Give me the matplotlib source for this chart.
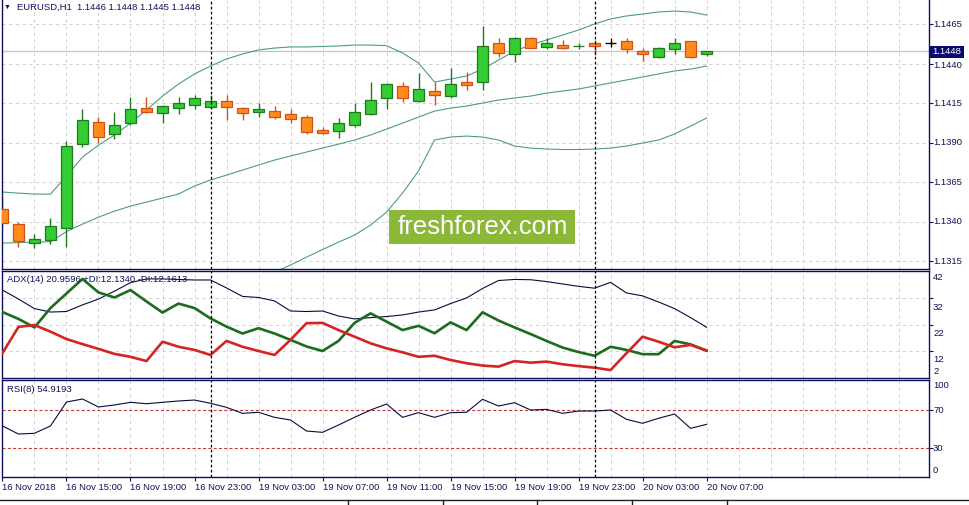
import numpy as np
import matplotlib
matplotlib.use('Agg')
import matplotlib.pyplot as plt
from matplotlib.patches import Rectangle
from matplotlib.lines import Line2D

plt.rcParams['font.family'] = ['Liberation Sans', 'DejaVu Sans']
plt.rcParams['lines.scale_dashes'] = False

# EURUSD H1 bars, 16 Nov 11:00 .. 20 Nov 07:00
opens = [1.13479, 1.13384, 1.13266, 1.13283, 1.13359, 1.13890, 1.14030, 1.13954, 1.14023, 1.14118,
         1.14087, 1.14118, 1.14137, 1.14125, 1.14163, 1.14118, 1.14093, 1.14099, 1.14080, 1.14061,
         1.13979, 1.13973, 1.14011, 1.14080, 1.14182, 1.14258, 1.14163, 1.14226, 1.14194, 1.14283,
         1.14283, 1.14530, 1.14460, 1.14562, 1.14505, 1.14517, 1.14508, 1.14530, 1.14533, 1.14543,
         1.14479, 1.14441, 1.14492, 1.14543, 1.14460]
highs = [1.13549, 1.13395, 1.13321, 1.13422, 1.13909, 1.14112, 1.14061, 1.14093, 1.14188, 1.14188,
         1.14137, 1.14188, 1.14201, 1.14201, 1.14201, 1.14125, 1.14150, 1.14131, 1.14112, 1.14074,
         1.13998, 1.14055, 1.14150, 1.14283, 1.14277, 1.14283, 1.14340, 1.14283, 1.14372, 1.14346,
         1.14637, 1.14562, 1.14568, 1.14568, 1.14562, 1.14549, 1.14530, 1.14549, 1.14562, 1.14562,
         1.14498, 1.14505, 1.14562, 1.14543, 1.14480]
lows = [1.13365, 1.13238, 1.13232, 1.13257, 1.13238, 1.13871, 1.13897, 1.13922, 1.14011, 1.14087,
        1.14023, 1.14080, 1.14112, 1.14118, 1.14042, 1.14042, 1.14061, 1.14049, 1.14023, 1.13954,
        1.13954, 1.13928, 1.13998, 1.14074, 1.14112, 1.14156, 1.14156, 1.14137, 1.14182, 1.14232,
        1.14232, 1.14441, 1.14410, 1.14498, 1.14492, 1.14492, 1.14492, 1.14454, 1.14505, 1.14467,
        1.14416, 1.14435, 1.14460, 1.14435, 1.14450]
closes = [1.13390, 1.13276, 1.13287, 1.13371, 1.13878, 1.14042, 1.13935, 1.14011, 1.14112, 1.14093,
          1.14131, 1.14150, 1.14182, 1.14163, 1.14125, 1.14087, 1.14112, 1.14061, 1.14049, 1.13966,
          1.13960, 1.14023, 1.14093, 1.14169, 1.14270, 1.14182, 1.14239, 1.14201, 1.14270, 1.14264,
          1.14511, 1.14467, 1.14562, 1.14498, 1.14530, 1.14498, 1.14514, 1.14511, 1.14533, 1.14492,
          1.14460, 1.14498, 1.14530, 1.14441, 1.14480]

# Bollinger bands
bb_upper = [1.13587, 1.13580, 1.13574, 1.13574, 1.13688, 1.13808, 1.13884, 1.13948, 1.14023, 1.14106,
            1.14194, 1.14270, 1.14334, 1.14384, 1.14429, 1.14460, 1.14486, 1.14498, 1.14505, 1.14505,
            1.14508, 1.14511, 1.14517, 1.14517, 1.14513, 1.14467, 1.14403, 1.14283, 1.14302, 1.14321,
            1.14365, 1.14422, 1.14479, 1.14517, 1.14549, 1.14580, 1.14612, 1.14650, 1.14682, 1.14701,
            1.14713, 1.14726, 1.14732, 1.14726, 1.14707]
bb_mid = [1.13264, 1.13267, 1.13270, 1.13273, 1.13337, 1.13384, 1.13428, 1.13466, 1.13498, 1.13523,
          1.13549, 1.13574, 1.13625, 1.13663, 1.13694, 1.13726, 1.13758, 1.13789, 1.13815, 1.13840,
          1.13865, 1.13890, 1.13916, 1.13948, 1.13985, 1.14023, 1.14061, 1.14099, 1.14118, 1.14131,
          1.14150, 1.14169, 1.14182, 1.14194, 1.14213, 1.14226, 1.14239, 1.14258, 1.14277, 1.14296,
          1.14315, 1.14334, 1.14353, 1.14365, 1.14384]
bb_lower = [1.12941, 1.12954, 1.12966, 1.12973, 1.12985, 1.12960, 1.12973, 1.12985, 1.12973, 1.12941,
            1.12903, 1.12878, 1.12916, 1.12941, 1.12960, 1.12992, 1.13030, 1.13080, 1.13125, 1.13175,
            1.13223, 1.13270, 1.13314, 1.13378, 1.13460, 1.13580, 1.13720, 1.13916, 1.13935, 1.13941,
            1.13935, 1.13916, 1.13878, 1.13865, 1.13859, 1.13856, 1.13856, 1.13859, 1.13865, 1.13878,
            1.13897, 1.13916, 1.13954, 1.14004, 1.14055]

# ADX(14)
adx = [35.0, 31.6, 28.0, 26.7, 26.9, 29.4, 31.6, 34.6, 37.8, 39.2,
       39.2, 39.0, 38.8, 38.8, 35.8, 32.6, 32.2, 30.9, 27.1, 26.9,
       27.1, 25.2, 24.1, 24.6, 25.0, 25.6, 26.7, 27.5, 29.9, 32.0,
       35.6, 38.6, 39.0, 38.9, 38.2, 37.3, 36.4, 35.7, 37.9, 33.9,
       32.8, 30.5, 28.0, 24.6, 20.96]
plus_di = [26.7, 24.1, 20.9, 28.2, 33.7, 39.2, 34.1, 32.2, 35.0, 30.7,
           26.5, 29.9, 28.2, 24.3, 21.2, 18.6, 20.6, 18.6, 16.2, 13.7,
           12.0, 15.8, 22.6, 26.2, 23.1, 19.9, 21.5, 18.7, 22.8, 19.9,
           26.6, 23.5, 20.9, 18.4, 15.8, 13.3, 11.6, 10.2, 13.6, 12.4,
           10.8, 10.8, 15.8, 14.5, 12.13]
minus_di = [11.2, 21.1, 21.8, 19.3, 16.5, 14.6, 12.8, 10.9, 9.8, 8.2,
            15.5, 13.6, 12.4, 10.5, 15.8, 13.6, 12.0, 10.5, 16.2, 22.5,
            22.6, 19.9, 17.4, 14.9, 13.0, 11.5, 9.8, 10.2, 8.6, 7.4,
            6.5, 6.1, 8.2, 7.6, 8.0, 7.0, 6.3, 5.7, 4.8, 11.2,
            17.4, 15.5, 13.4, 14.3, 12.16]

# RSI(8)
rsi = [53.2, 44.7, 45.5, 53.2, 78.4, 81.6, 73.2, 75.3, 78.1, 76.6,
       78.1, 79.5, 80.5, 77.1, 72.8, 66.5, 67.6, 62.3, 59.5, 47.9,
       46.5, 54.2, 62.3, 70.0, 76.3, 62.3, 67.2, 62.3, 67.2, 67.6,
       81.3, 74.2, 77.7, 70.0, 70.7, 66.5, 68.9, 68.9, 70.0, 60.2,
       56.0, 61.3, 65.8, 50.7, 54.92]

time_labels = ['16 Nov 2018', '16 Nov 15:00', '16 Nov 19:00', '16 Nov 23:00', '19 Nov 03:00',
               '19 Nov 07:00', '19 Nov 11:00', '19 Nov 15:00', '19 Nov 19:00', '19 Nov 23:00',
               '20 Nov 03:00', '20 Nov 07:00']
day_starts = [13, 37]
price_ticks = [1.1315, 1.1340, 1.1365, 1.1390, 1.1415, 1.1440, 1.1465]
adx_ticks = [12, 22, 32]
rsi_levels = [30, 70]

W, H = 969, 505
NAVY = '#10105a'
GRID = '#cbcbcb'
BULL, BULL_EDGE = '#33cc33', '#1f7a1f'
BEAR, BEAR_EDGE = '#ff8c1a', '#d2501a'
BAND = '#4f9c80'
FS = 6.8


def box(left, top, right, bottom):
    return [left / W, 1 - bottom / H, (right - left) / W, (bottom - top) / H]


def fx(x):
    return x / W


def fy(y):
    return 1 - y / H


def right_label(a, v, s, dy=0):
    a.annotate(s, xy=(1, v), xycoords=('axes fraction', 'data'), xytext=(4, dy),
               textcoords='offset pixels', ha='left', va='center', fontsize=FS,
               color=NAVY, annotation_clip=False)


fig = plt.figure(figsize=(W / 100, H / 100), dpi=100)
ax = fig.add_axes(box(2, 0, 929, 269))
ax_adx = fig.add_axes(box(2, 271, 929, 378))
ax_rsi = fig.add_axes(box(2, 380, 929, 476.5))

n = len(closes)
xs = np.arange(n)

for a in (ax, ax_adx, ax_rsi):
    a.set_xlim(-0.03, 57.9)
    for s in a.spines.values():
        s.set_color(NAVY)
        s.set_linewidth(1.0)
    for b in range(0, 58, 2):
        a.axvline(b, color=GRID, lw=0.6, ls=(0, (2.4, 2.4)), zorder=0)
    for b in day_starts:
        a.axvline(b, color='black', lw=0.9, ls=(0, (2.0, 1.6)), zorder=5)
    a.tick_params(axis='y', which='both', left=False, right=True, labelleft=False,
                  labelright=False, direction='out', length=3, color=NAVY)
    a.tick_params(axis='x', bottom=False, labelbottom=False)
ax.spines['top'].set_visible(False)

# main price panel
ax.set_ylim(1.13100, 1.14802)
ax.set_yticks(price_ticks)
for p in price_ticks:
    ax.axhline(p, color=GRID, lw=0.6, ls=(0, (2.4, 2.4)), zorder=0)
    right_label(ax, p, '%.4f' % p, dy=-1.5 if p == 1.1440 else 0)
ax.axhline(closes[-1], color='#c4c4c4', lw=0.9, zorder=1)

ax.plot(xs, bb_upper, color=BAND, lw=0.8, zorder=1.5)
ax.plot(xs, bb_mid, color=BAND, lw=0.8, zorder=1.5)
ax.plot(xs, bb_lower, color=BAND, lw=0.8, zorder=1.5)

for i in range(n):
    o, h, l, c = opens[i], highs[i], lows[i], closes[i]
    if c > o:
        fill, edge = BULL, BULL_EDGE
    elif c < o:
        fill, edge = BEAR, BEAR_EDGE
    else:
        fill, edge = 'black', 'black'
    ax.vlines(i, l, h, color=edge, lw=1.0, zorder=2)
    if c == o:
        ax.hlines(o, i - 0.33, i + 0.33, color='black', lw=1.0, zorder=3)
    else:
        ax.bar(i, abs(c - o), width=0.64, bottom=min(o, c), color=fill,
               edgecolor=edge, linewidth=0.9, zorder=3)

# ADX panel
ax_adx.set_ylim(1.81, 42.19)
ax_adx.set_yticks(adx_ticks)
for v in adx_ticks:
    ax_adx.axhline(v, color=GRID, lw=0.6, ls=(0, (2.4, 2.4)), zorder=0)
    right_label(ax_adx, v, str(v), dy=-9)
right_label(ax_adx, 42, '42', dy=-6)
right_label(ax_adx, 2, '2', dy=6)
ax_adx.plot(xs, adx, color='#0a0a40', lw=0.8, zorder=3)
ax_adx.plot(xs, plus_di, color='#1d6b1d', lw=1.9, zorder=3)
ax_adx.plot(xs, minus_di, color='#d42424', lw=1.9, zorder=3)

# RSI panel
ax_rsi.set_ylim(0, 101.6)
ax_rsi.set_yticks(rsi_levels)
for v in rsi_levels:
    ax_rsi.axhline(v, color='#c23b3b', lw=0.8, ls=(0, (2.2, 1.6)), zorder=1)
    right_label(ax_rsi, v, str(v))
right_label(ax_rsi, 100, '100', dy=-4)
right_label(ax_rsi, 0, '0', dy=6)
ax_rsi.plot(xs, rsi, color='#0a0a40', lw=0.8, zorder=3)

ax_rsi.set_xticks(list(range(0, n, 4)))
ax_rsi.set_xticklabels(time_labels, ha='left', fontsize=FS, color=NAVY)
ax_rsi.tick_params(axis='x', bottom=True, labelbottom=True, direction='out',
                   length=3, color=NAVY, pad=1.5)

# labels
fig.text(fx(4), fy(7), '\u25bc', fontsize=5, color=NAVY, va='center')
fig.text(fx(17), fy(7), 'EURUSD,H1  1.1446 1.1448 1.1445 1.1448', fontsize=FS,
         color=NAVY, va='center')
fig.text(fx(7), fy(280), 'ADX(14) 20.9596 +DI:12.1340 -DI:12.1613', fontsize=FS,
         color=NAVY, va='center')
fig.text(fx(7), fy(390), 'RSI(8) 54.9193', fontsize=FS, color=NAVY, va='center')

# current price tag
fig.patches.append(Rectangle((fx(930), fy(57.5)), 34 / W, 11 / H, transform=fig.transFigure,
                             facecolor='#0a0a6e', edgecolor='none'))
fig.text(fx(947), fy(51.5), '1.1448', fontsize=FS, color='white', ha='center', va='center')

# watermark
fig.patches.append(Rectangle((fx(389), fy(244)), 186 / W, 34 / H, transform=fig.transFigure,
                             facecolor='#8cb83a', edgecolor='none', zorder=10))
fig.text(fx(483), fy(227), 'freshforex.com', fontsize=18.5, color='white', ha='center',
         va='center', zorder=11)

# tab strip at the bottom
fig.add_artist(Line2D([0, 1], [fy(499.5), fy(499.5)], color='#202020', lw=1.0))
for tx in [348, 443, 537, 632, 727]:
    fig.add_artist(Line2D([fx(tx), fx(tx)], [fy(499.5), fy(505)], color='#202020', lw=1.0))

fig.savefig('out.png', dpi=100)
